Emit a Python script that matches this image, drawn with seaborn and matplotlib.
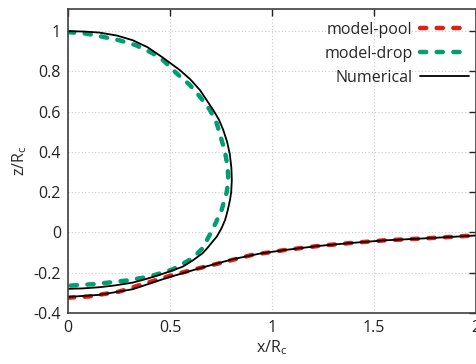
import matplotlib
matplotlib.use("Agg")
import matplotlib.pyplot as plt
import seaborn as sns

# Numerical drop shape (x/Rc, z/Rc)
num_drop_x = [0, 0.08, 0.153, 0.24, 0.317, 0.39, 0.46, 0.549, 0.60, 0.647, 0.712, 0.74,
              0.761, 0.78, 0.793, 0.801, 0.803, 0.80, 0.794, 0.783, 0.77, 0.752, 0.729,
              0.709, 0.685, 0.66, 0.61, 0.562, 0.50, 0.448, 0.38, 0.317, 0.23, 0.153, 0.07, 0]
num_drop_z = [1.0, 0.998, 0.993, 0.978, 0.955, 0.92, 0.872, 0.806, 0.76, 0.707, 0.608, 0.56,
              0.509, 0.45, 0.39, 0.32, 0.26, 0.20, 0.161, 0.11, 0.062, 0.02, -0.021,
              -0.045, -0.075, -0.103, -0.14, -0.17, -0.193, -0.211, -0.232, -0.249, -0.263,
              -0.272, -0.278, -0.28]

# Numerical pool shape
num_pool_x = [0, 0.153, 0.317, 0.48, 0.644, 0.807, 0.94, 1.064, 1.227, 1.39, 1.554,
              1.717, 1.88, 2.0]
num_pool_z = [-0.32, -0.31, -0.282, -0.227, -0.178, -0.133, -0.105, -0.087, -0.067,
              -0.052, -0.039, -0.031, -0.022, -0.015]

# model-drop
mdrop_x = [0, 0.088, 0.17, 0.25, 0.333, 0.415, 0.467, 0.533, 0.598, 0.647, 0.696, 0.729,
           0.753, 0.77, 0.783, 0.786, 0.778, 0.753, 0.712, 0.66, 0.611, 0.514, 0.40,
           0.284, 0.137, 0.023, 0]
mdrop_z = [0.995, 0.988, 0.972, 0.955, 0.93, 0.89, 0.855, 0.79, 0.732, 0.674, 0.608,
           0.542, 0.459, 0.40, 0.32, 0.26, 0.20, 0.112, 0.021, -0.078, -0.128, -0.183,
           -0.219, -0.239, -0.256, -0.263, -0.265]

# model-pool
mpool_x = [0, 0.1, 0.25, 0.35, 0.497, 0.62, 0.742, 0.9, 1.064, 1.227, 1.39, 1.554,
           1.717, 1.88, 2.0]
mpool_z = [-0.324, -0.318, -0.294, -0.262, -0.216, -0.183, -0.153, -0.112, -0.087,
           -0.067, -0.052, -0.039, -0.031, -0.022, -0.014]

sns.set_theme(style="white")
plt.rcParams['font.family'] = ['Open Sans', 'DejaVu Sans']
plt.rcParams['mathtext.fontset'] = 'custom'
plt.rcParams['mathtext.rm'] = 'Open Sans'

fig = plt.figure(figsize=(4.77, 3.64), dpi=100)
ax = fig.add_axes([68/477, 1-313/364, (476-68)/477, (313-9)/364])

red = "#e51e10"
green = "#009e73"
dash = (1.4, 2.35)
fs = 11.5

sns.lineplot(x=mpool_x, y=mpool_z, sort=False, estimator=None, ax=ax, color=red,
             lw=3.2, label="model-pool")
ax.lines[-1].set_dashes(dash)
ax.lines[-1].set_dash_capstyle('round')
sns.lineplot(x=mdrop_x, y=mdrop_z, sort=False, estimator=None, ax=ax, color=green,
             lw=3.2, label="model-drop")
ax.lines[-1].set_dashes(dash)
ax.lines[-1].set_dash_capstyle('round')
sns.lineplot(x=num_drop_x, y=num_drop_z, sort=False, estimator=None, ax=ax, color="black",
             lw=1.3, label="Numerical")
sns.lineplot(x=num_pool_x, y=num_pool_z, sort=False, estimator=None, ax=ax, color="black",
             lw=1.3)

ax.set_xlim(0, 2)
ax.set_ylim(-0.4, 1.11)
ax.set_xticks([0, 0.5, 1, 1.5, 2])
ax.set_xticklabels(["0", "0.5", "1", "1.5", "2"])
ax.set_yticks([-0.4, -0.2, 0, 0.2, 0.4, 0.6, 0.8, 1])
ax.set_yticklabels(["-0.4", "-0.2", "0", "0.2", "0.4", "0.6", "0.8", "1"])
ax.grid(True, color="#cccccc", linestyle=(0, (1, 2)), lw=0.8)
ax.tick_params(direction="in", length=5, width=1, top=True, right=True,
               labelsize=fs, colors="#222222", pad=5)
for s in ax.spines.values():
    s.set_color("#404040")
    s.set_linewidth(1.2)
ax.set_xlabel(r"x/R$_\mathrm{c}$", fontsize=fs, labelpad=2)
ax.set_ylabel(r"z/R$_\mathrm{c}$", fontsize=fs, labelpad=3)

h, l = ax.get_legend_handles_labels()
leg = ax.legend(h, l, loc="upper right", bbox_to_anchor=(1.015, 1.0), frameon=False,
                markerfirst=False, fontsize=fs, handlelength=3.1, handletextpad=0.45,
                labelspacing=0.5, borderaxespad=0.4)
for t in leg.get_texts():
    t.set_ha("right")

fig.savefig("out.png", dpi=100)
